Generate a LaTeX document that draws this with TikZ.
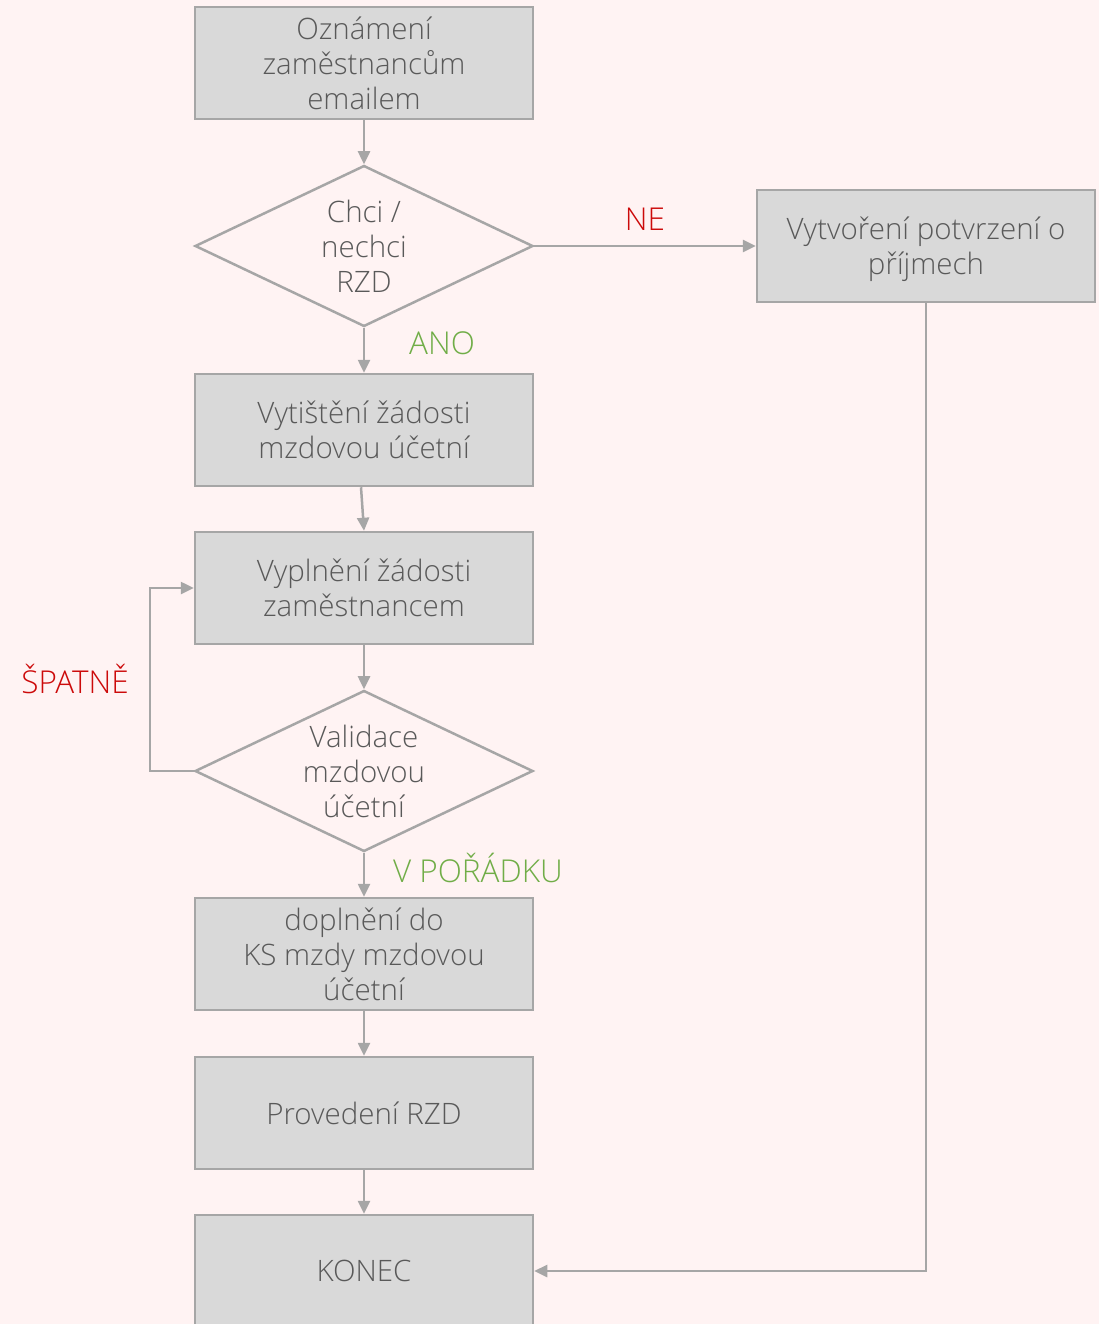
\documentclass[tikz,border=0pt]{standalone}
\usepackage{fontspec}
\setmainfont{Open Sans}[UprightFont=* Light]
\usetikzlibrary{shapes.geometric,arrows.meta}
\definecolor{bgc}{HTML}{FFF3F3}
\definecolor{boxfill}{HTML}{D9D9D9}
\definecolor{boxline}{HTML}{A6A6A6}
\definecolor{txtc}{HTML}{595959}
\definecolor{redc}{HTML}{CC0A0A}
\definecolor{greenc}{HTML}{70AD47}
\tikzset{
  procbox/.style={draw=boxline, fill=boxfill, line width=2.5pt, minimum width=338pt, minimum height=112pt, inner sep=0pt, text=txtc, align=center, font=\fontsize{29.5}{35}\selectfont},
  decision/.style={diamond, draw=boxline, fill=none, line width=2.5pt, minimum width=338pt, minimum height=161pt, inner sep=0pt},
  dtext/.style={text=txtc, align=center, font=\fontsize{29.5}{35}\selectfont, inner sep=0pt},
  conn/.style={draw=boxline, line width=2.5pt, -{Triangle[length=13pt,width=12pt]}},
  redlbl/.style={text=redc, font=\fontsize{31.5}{36}\selectfont, inner sep=0pt},
  greenlbl/.style={text=greenc, font=\fontsize{31.5}{36}\selectfont, inner sep=0pt}
}
\begin{document}
\begin{tikzpicture}[x=1pt,y=-1pt]
\fill[bgc] (0,0) rectangle (1099,1324);
\useasboundingbox (0,0) rectangle (1099,1324);
\node[procbox] (b1) at (364,63) {Oznámení\\zaměstnancům\\emailem};
\node[decision] (d1) at (364,246) {};
\node[dtext] at (d1) {Chci /\\nechci\\RZD};
\node[procbox] (ne) at (926,246) {Vytvoření potvrzení o\\\raisebox{0pt}[\height][0pt]{příjmech}};
\node[procbox] (b2) at (364,430) {Vytištění žádosti\\mzdovou účetní};
\node[procbox] (b3) at (364,588) {Vyplnění žádosti\\zaměstnancem};
\node[decision] (d2) at (364,771) {};
\node[dtext] at (d2) {Validace\\mzdovou\\účetní};
\node[procbox] (b4) at (364,954) {doplnění do\\KS mzdy mzdovou\\účetní};
\node[procbox] (b5) at (364,1113) {Provedení RZD};
\node[procbox] (b6) at (364,1271) {KONEC};
\coordinate (loopb) at (150,771);
\coordinate (loopt) at (150,588);
\coordinate (necorner) at (926,1271);
\draw[conn] (b1) -- (d1);
\draw[conn] (d1) -- (ne);
\draw[conn] (d1) -- (b2);
\draw[conn] (b2.south) ++(-3,0) -- (b3.north);
\draw[conn] (b3) -- (d2);
\draw[conn] (d2.west) -- (loopb) -- (loopt) -- (b3.west);
\draw[conn] (d2) -- (b4);
\draw[conn] (b4) -- (b5);
\draw[conn] (b5) -- (b6);
\draw[conn] (ne.south) -- (necorner) -- (b6.east);
\node[redlbl] (lne) at (645,219) {NE};
\node[greenlbl] (lano) at (442,343) {ANO};
\node[redlbl] (lsp) at (75,679) {ŠPATNĚ};
\node[greenlbl] (lok) at (478,868) {V POŘÁDKU};
\end{tikzpicture}
\end{document}
